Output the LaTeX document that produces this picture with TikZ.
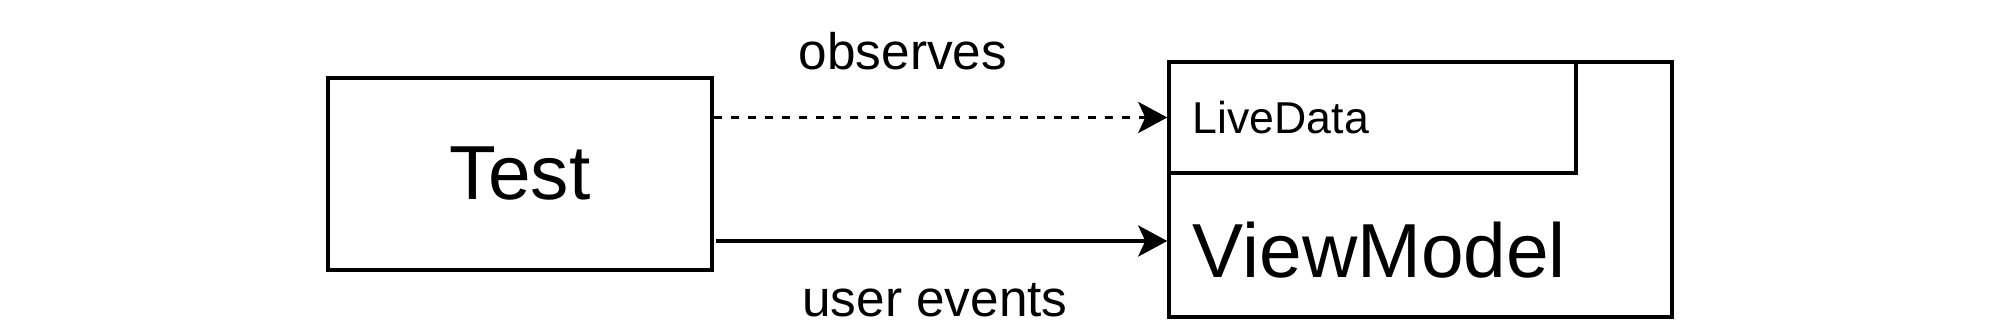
\documentclass[tikz,border=0pt]{standalone}
\usepackage{fontspec}
\setmainfont{Liberation Sans}
\usetikzlibrary{arrows.meta}

\begin{document}
\begin{tikzpicture}[
  box/.style={draw, line width=1pt, inner sep=0pt},
  lbl/.style={font=\fontsize{14.6}{17}\selectfont, anchor=base, inner sep=0pt},
  arr/.style={line width=1pt,
              -{Stealth[length=0.29cm, width=0.31cm, inset=0.07cm]}},
]
\useasboundingbox (0,0) rectangle (20,3.32);

% Test
\node[box, minimum width=3.84cm, minimum height=1.92cm,
      font=\fontsize{21.8}{26}\selectfont] (test) at (5.20,1.58) {Test};

% ViewModel with LiveData inside
\node[box, minimum width=5.03cm, minimum height=2.55cm] (vm) at (14.205,1.425) {};
\node[box, minimum width=4.07cm, minimum height=1.11cm] (livedata) at (13.725,2.145) {};
\node[anchor=base west, inner sep=0pt, font=\fontsize{12.7}{15}\selectfont]
  (ldtext) at (11.92,1.98) {LiveData};
\node[anchor=base west, inner sep=0pt, font=\fontsize{21.8}{26}\selectfont]
  (vmtext) at (11.92,0.54) {ViewModel};

% Connectors
\coordinate (evtstart) at ([xshift=0.02cm, yshift=-0.67cm]test.east);
\draw[arr, dash pattern=on 0.085cm off 0.085cm]
  (test.east |- livedata.west) -- (livedata.west);
\draw[arr] (evtstart) -- (evtstart -| vm.west);

% Labels
\node[lbl] (obs) at (9.03,2.62) {observes};
\node[lbl] (evt) at (9.35,0.15) {user events};
\end{tikzpicture}
\end{document}
